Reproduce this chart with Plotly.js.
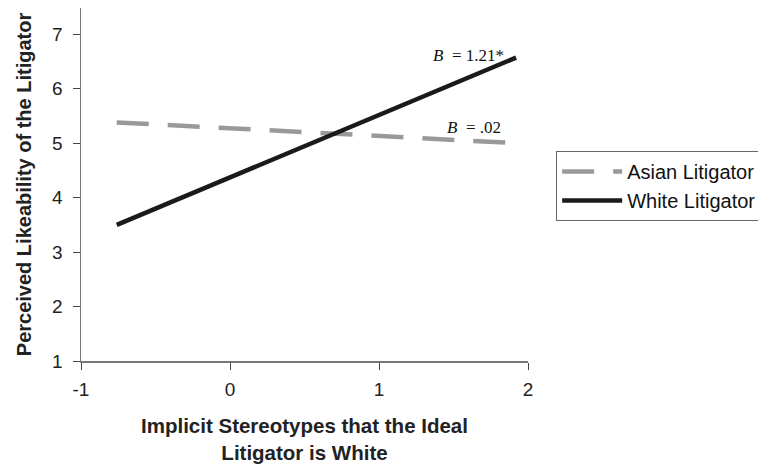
<!DOCTYPE html>
<html>
<head>
<meta charset="utf-8">
<script src="https://cdn.plot.ly/plotly-3.0.1.min.js"></script>
<style>html,body{margin:0;padding:0;background:#fff;}#chart{width:758px;height:464px;}</style>
</head>
<body>
<div id="chart"></div>
<script>
const seriesNames = ["Asian Litigator", "White Litigator"];
const xValues = [-0.76, 1.92];
const asianY = [5.38, 5.0];
const whiteY = [3.5, 6.57];
const xTicks = [-1, 0, 1, 2];
const yTicks = [1, 2, 3, 4, 5, 6, 7];
const slopeLabels = ["<i>B</i>  = 1.21*", "<i>B</i>  = .02"];

const traces = [
  {x: xValues, y: asianY, name: seriesNames[0], mode: "lines",
   line: {color: "#999999", width: 4.5, dash: "32px,19px"}},
  {x: xValues, y: whiteY, name: seriesNames[1], mode: "lines",
   line: {color: "#1a1a1a", width: 4.5}}
];

const layout = {
  width: 758, height: 464,
  margin: {l: 81, r: 230, t: 8, b: 103, autoexpand: false},
  paper_bgcolor: "#fff", plot_bgcolor: "#fff",
  font: {family: "Liberation Sans, Arial, sans-serif", size: 19, color: "#222"},
  showlegend: true,
  legend: {x: 1.063, y: 0.595, xanchor: "left", yanchor: "top",
    bordercolor: "#666", borderwidth: 1, bgcolor: "#fff",
    font: {size: 20, color: "#111"}, tracegroupgap: 0, itemwidth: 60},
  xaxis: {range: [-1, 2], tickvals: xTicks, ticktext: xTicks.map(String),
    showgrid: false, zeroline: false, showline: true, linecolor: "#777", linewidth: 1.5,
    ticks: "outside", ticklen: 7, tickcolor: "#444", ticklabelstandoff: 4,
    tickfont: {size: 19, color: "#222"},
    title: {text: "<b>Implicit Stereotypes that the Ideal<br>Litigator is White</b>",
      font: {size: 20.5, color: "#222"}, standoff: 21}},
  yaxis: {range: [1, 7.48], tickvals: yTicks, ticktext: yTicks.map(String),
    showgrid: false, zeroline: false, showline: true, linecolor: "#777", linewidth: 1.5,
    ticks: "outside", ticklen: 7, tickcolor: "#444", ticklabelstandoff: 6,
    tickfont: {size: 19, color: "#222"},
    title: {text: "<b>Perceived Likeability of the Litigator</b>",
      font: {size: 20, color: "#222"}, standoff: 15}},
  annotations: [
    {x: 1.6, y: 6.6, xref: "x", yref: "y", text: slopeLabels[0], showarrow: false,
      xanchor: "center", yanchor: "middle",
      font: {family: "Liberation Serif, Times New Roman, serif", size: 17, color: "#111"}},
    {x: 1.64, y: 5.28, xref: "x", yref: "y", text: slopeLabels[1], showarrow: false,
      xanchor: "center", yanchor: "middle",
      font: {family: "Liberation Serif, Times New Roman, serif", size: 17, color: "#111"}}
  ]
};

Plotly.newPlot("chart", traces, layout, {displayModeBar: false, staticPlot: true});
</script>
</body>
</html>
